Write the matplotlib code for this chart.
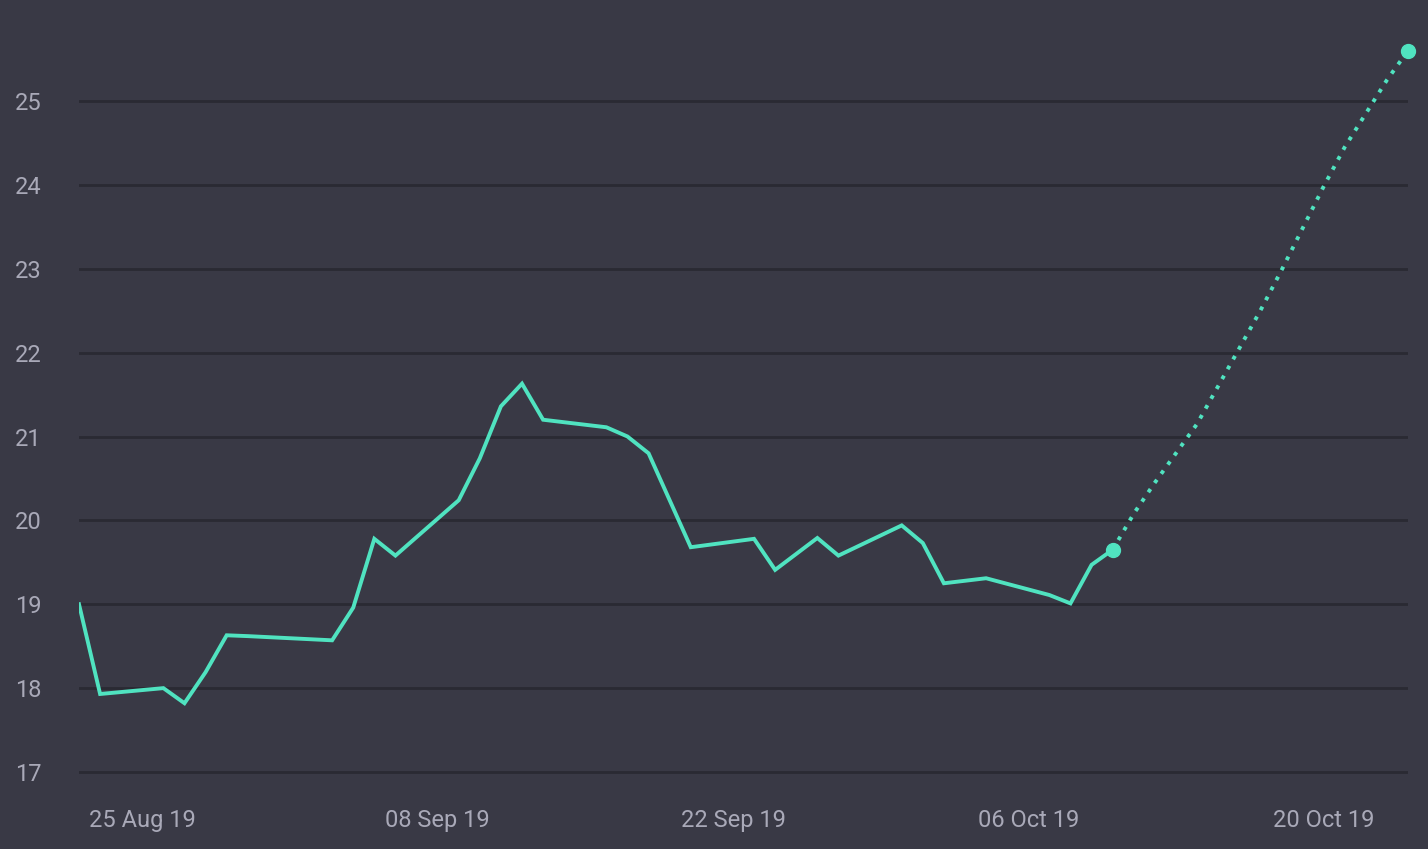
import datetime as dt

import matplotlib
matplotlib.use('Agg')
import matplotlib.pyplot as plt
import matplotlib.dates as mdates
from matplotlib import font_manager


# Observed series (trading days)
dates = [
    '2019-08-22', '2019-08-23', '2019-08-26', '2019-08-27', '2019-08-28', '2019-08-29', '2019-08-30',
    '2019-09-03', '2019-09-04', '2019-09-05', '2019-09-06', '2019-09-09', '2019-09-10', '2019-09-11',
    '2019-09-12', '2019-09-13', '2019-09-16', '2019-09-17', '2019-09-18', '2019-09-19', '2019-09-20',
    '2019-09-23', '2019-09-24', '2019-09-25', '2019-09-26', '2019-09-27', '2019-09-30', '2019-10-01',
    '2019-10-02', '2019-10-03', '2019-10-04', '2019-10-07', '2019-10-08', '2019-10-09', '2019-10-10',
]
values = [
    19.00, 17.93, 18.00, 17.82, 18.19, 18.63, 18.62,
    18.57, 18.96, 19.78, 19.58, 20.24, 20.74, 21.36,
    21.63, 21.20, 21.11, 21.00, 20.80, 20.24, 19.68,
    19.78, 19.41, 19.60, 19.79, 19.58, 19.94, 19.73,
    19.25, 19.28, 19.31, 19.11, 19.01, 19.47, 19.65,
]

# Projection
forecast_dates = [
    '2019-10-10', '2019-10-11', '2019-10-12', '2019-10-13', '2019-10-14', '2019-10-15', '2019-10-16',
    '2019-10-17', '2019-10-18', '2019-10-19', '2019-10-20', '2019-10-21', '2019-10-22', '2019-10-23',
    '2019-10-24',
]
forecast_values = [
    19.65, 20.08, 20.45, 20.80, 21.15, 21.60, 22.05,
    22.50, 22.98, 23.48, 23.98, 24.45, 24.85, 25.25,
    25.60,
]

tick_dates = ['2019-08-25', '2019-09-08', '2019-09-22', '2019-10-06', '2019-10-20']
y_ticks = [17, 18, 19, 20, 21, 22, 23, 24, 25]


def to_date(s):
    return dt.datetime.strptime(s, '%Y-%m-%d')


available = {f.name for f in font_manager.fontManager.ttflist}
family = 'Liberation Sans Narrow' if 'Liberation Sans Narrow' in available else 'Roboto'
plt.rcParams['font.family'] = [family, 'DejaVu Sans']

BG = '#393945'
GRID = '#2a2a33'
LINE = '#50e3c0'
TEXT = '#a9a9b8'

W, H = 1428, 849
fig = plt.figure(figsize=(W / 100, H / 100), dpi=100, facecolor=BG)
ax = fig.add_axes((79 / W, (H - 790) / H, (1408 - 79) / W, 790 / H))
ax.set_facecolor(BG)

x = [to_date(d) for d in dates]
fx = [to_date(d) for d in forecast_dates]

ax.plot(x, values, color=LINE, lw=2.8, solid_joinstyle='miter', zorder=3)
ax.plot(fx, forecast_values, color=LINE, lw=2.8, linestyle=(0, (1, 1.9)),
        dash_capstyle='butt', zorder=3)
ax.plot([fx[0], fx[-1]], [forecast_values[0], forecast_values[-1]], 'o',
        color=LINE, markersize=10, zorder=4, clip_on=False)

ax.set_xlim(to_date('2019-08-22'), to_date('2019-10-24'))
ax.set_ylim(17 - 18 / 83.875, 17 + 772 / 83.875)

ax.set_yticks(y_ticks)
ax.set_xticks([to_date(d) for d in tick_dates])
ax.xaxis.set_major_formatter(mdates.DateFormatter('%d %b %y'))

ax.grid(axis='y', color=GRID, lw=2)
ax.grid(axis='x', visible=False)
for s in ax.spines.values():
    s.set_visible(False)

ax.tick_params(axis='both', length=0, labelsize=17, colors=TEXT)
ax.tick_params(axis='y', pad=27)
ax.tick_params(axis='x', pad=14)

fig.savefig('out.png', dpi=100, facecolor=BG)
